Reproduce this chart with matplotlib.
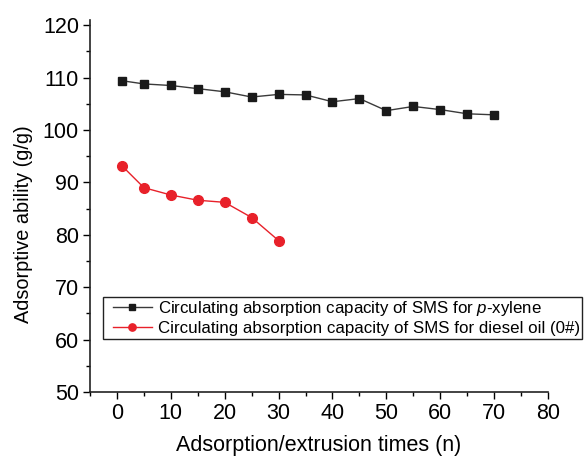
import matplotlib
matplotlib.use("Agg")
import matplotlib.pyplot as plt
from matplotlib.ticker import MultipleLocator
from matplotlib.patches import Rectangle

plt.rcParams['font.family'] = ['Liberation Sans', 'DejaVu Sans']
plt.rcParams['mathtext.fontset'] = 'custom'
plt.rcParams['mathtext.rm'] = 'Liberation Sans'
plt.rcParams['mathtext.it'] = 'Liberation Sans:italic'

x_xylene = [1, 5, 10, 15, 20, 25, 30, 35, 40, 45, 50, 55, 60, 65, 70]
y_xylene = [109.4, 108.8, 108.5, 107.9, 107.3, 106.3, 106.8, 106.7, 105.4, 106.0, 103.7, 104.5, 103.9, 103.1, 102.9]
x_diesel = [1, 5, 10, 15, 20, 25, 30]
y_diesel = [93.1, 89.0, 87.6, 86.6, 86.2, 83.3, 78.9]

label_xylene = "Circulating absorption capacity of SMS for $\\it{p}$-xylene"
label_diesel = "Circulating absorption capacity of SMS for diesel oil (0#)"
xlabel = "Adsorption/extrusion times (n)"
ylabel = "Adsorptive ability (g/g)"

W, H = 585, 462
fig = plt.figure(figsize=(5.85, 4.62), dpi=100)
ax = fig.add_axes([90/W, 1-392/H, (548-90)/W, (392-20)/H])

ax.plot(x_xylene, y_xylene, color='#3a3a3a', lw=1.0, marker='s', ms=6,
        mfc='#1a1a1a', mec='#1a1a1a', label=label_xylene)
ax.plot(x_diesel, y_diesel, color='#e8212a', lw=1.0, marker='o', ms=7,
        mfc='#e8212a', mec='#e8212a', label=label_diesel)

ax.set_xlim(-5, 80)
ax.set_ylim(50, 121)
ax.xaxis.set_major_locator(MultipleLocator(10))
ax.xaxis.set_minor_locator(MultipleLocator(5))
ax.yaxis.set_major_locator(MultipleLocator(10))
ax.yaxis.set_minor_locator(MultipleLocator(5))
ax.spines['top'].set_visible(False)
ax.spines['right'].set_visible(False)
for s in ['left', 'bottom']:
    ax.spines[s].set_linewidth(1.2)
    ax.spines[s].set_color('#222222')
ax.tick_params(which='major', direction='out', length=5, width=1.0, labelsize=15.5, pad=3)
ax.tick_params(which='minor', direction='out', length=3, width=1.0)
ax.set_xlabel(xlabel, fontsize=15.5, labelpad=8)
ax.set_ylabel(ylabel, fontsize=14.3)
ax.yaxis.set_label_coords(-0.124, 0.45)

fig.patches.append(Rectangle((103/W, 1-339/H), (582-103)/W, (339-297)/H,
                             transform=fig.transFigure, fill=True,
                             facecolor='white', edgecolor='#222222',
                             linewidth=1.0, zorder=4))
handles, labels = ax.get_legend_handles_labels()
leg = fig.legend(handles, labels, loc='upper left', bbox_to_anchor=(113/W, 1-299/H),
                 bbox_transform=fig.transFigure, borderaxespad=0,
                 frameon=False, fontsize=12.2,
                 handlelength=2.3, handletextpad=0.35, borderpad=0.0,
                 labelspacing=0.15, markerscale=0.75)
leg.set_zorder(5)

fig.savefig("out.png", dpi=100)
